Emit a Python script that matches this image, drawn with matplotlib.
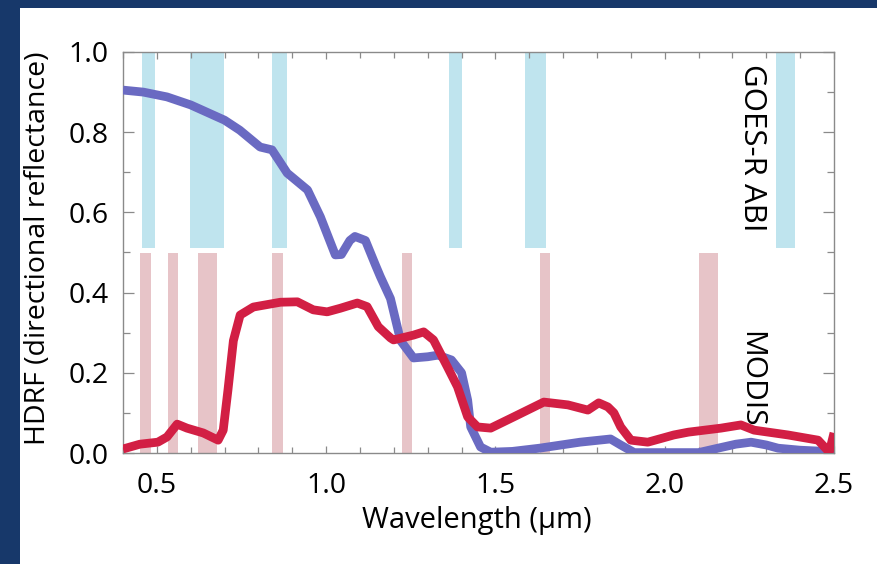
import matplotlib
matplotlib.use("Agg")
import matplotlib.pyplot as plt
from matplotlib.patches import Rectangle
from matplotlib.ticker import MultipleLocator

plt.rcParams['font.family'] = ['Open Sans', 'DejaVu Sans']

# GOES-R ABI band edges (µm) as drawn
abi_lo = [0.456, 0.598, 0.841, 1.362, 1.586, 2.330]
abi_hi = [0.494, 0.699, 0.885, 1.400, 1.649, 2.385]
abi_top = 1.0
abi_bottom = 0.51

# MODIS band edges (µm) as drawn
modis_lo = [0.450, 0.533, 0.622, 0.841, 1.225, 1.631, 2.100]
modis_hi = [0.483, 0.563, 0.678, 0.873, 1.255, 1.660, 2.157]
modis_top = 0.50

# Blue curve (snow-like)
blue_wl = [0.40, 0.46, 0.53, 0.60, 0.70, 0.745, 0.805, 0.84, 0.885, 0.945, 0.983,
           1.027, 1.045, 1.07, 1.085, 1.116, 1.145, 1.16, 1.19, 1.22, 1.258, 1.30,
           1.33, 1.37, 1.40, 1.418, 1.427, 1.456, 1.486, 1.55, 1.63, 1.75, 1.84,
           1.87, 1.91, 2.00, 2.10, 2.157, 2.21, 2.255, 2.30, 2.335, 2.40, 2.50]
blue_val = [0.905, 0.900, 0.888, 0.868, 0.830, 0.805, 0.763, 0.756, 0.698, 0.656, 0.589,
            0.494, 0.495, 0.530, 0.540, 0.530, 0.470, 0.440, 0.385, 0.280, 0.237, 0.240,
            0.244, 0.232, 0.200, 0.132, 0.065, 0.015, 0.002, 0.004, 0.012, 0.027, 0.035,
            0.020, 0.001, 0.001, 0.001, 0.012, 0.022, 0.027, 0.020, 0.012, 0.007, 0.003]

# Red curve (vegetation-like)
red_wl = [0.40, 0.45, 0.503, 0.53, 0.56, 0.589, 0.637, 0.681, 0.696, 0.71, 0.726,
          0.746, 0.785, 0.865, 0.915, 0.962, 1.003, 1.042, 1.092, 1.121, 1.154, 1.19,
          1.199, 1.258, 1.288, 1.317, 1.358, 1.388, 1.418, 1.447, 1.486, 1.554, 1.643,
          1.714, 1.773, 1.805, 1.832, 1.85, 1.87, 1.90, 1.95, 2.027, 2.07, 2.166,
          2.225, 2.264, 2.364, 2.453, 2.486, 2.50]
red_val = [0.010, 0.022, 0.027, 0.040, 0.072, 0.062, 0.050, 0.032, 0.057, 0.157, 0.280,
           0.344, 0.364, 0.376, 0.377, 0.357, 0.352, 0.361, 0.374, 0.365, 0.315, 0.287,
           0.282, 0.294, 0.302, 0.282, 0.215, 0.165, 0.090, 0.065, 0.062, 0.090, 0.127,
           0.120, 0.107, 0.125, 0.115, 0.100, 0.065, 0.032, 0.027, 0.045, 0.052, 0.062,
           0.070, 0.057, 0.045, 0.032, 0.002, 0.050]

xticks = [0.5, 1.0, 1.5, 2.0, 2.5]
yticks = [0.0, 0.2, 0.4, 0.6, 0.8, 1.0]

W, H = 877, 564
FS = 20.5
fig = plt.figure(figsize=(W / 100, H / 100), dpi=100)
fig.patch.set_facecolor('#17386a')
fig.patches.append(Rectangle((20 / W, 0), 1 - 20 / W, 1 - 8 / H, transform=fig.transFigure,
                             facecolor='white', edgecolor='none', zorder=-10))

ax = fig.add_axes([123 / W, 1 - 453 / H, (834 - 123) / W, (453 - 52) / H])
ax.set_zorder(5)
ax.set_facecolor('white')

for lo, hi in zip(abi_lo, abi_hi):
    ax.axvspan(lo, hi, ymin=abi_bottom, ymax=abi_top, color='#bfe4ee', lw=0, zorder=1)
for lo, hi in zip(modis_lo, modis_hi):
    ax.axvspan(lo, hi, ymin=0, ymax=modis_top, color='#e7c4c8', lw=0, zorder=1)

ax.plot(blue_wl, blue_val, color='#6a6ac2', lw=6.3, solid_capstyle='butt',
        solid_joinstyle='round', zorder=3)
ax.plot(red_wl, red_val, color='#d21f44', lw=6.3, solid_capstyle='butt',
        solid_joinstyle='round', zorder=4)

ax.set_xlim(0.4, 2.5)
ax.set_ylim(0.0, 1.0)
ax.set_xticks(xticks)
ax.set_xticklabels([f'{v:.1f}' for v in xticks])
ax.set_yticks(yticks)
ax.set_yticklabels([f'{v:.1f}' for v in yticks])
ax.xaxis.set_minor_locator(MultipleLocator(0.1))
ax.yaxis.set_minor_locator(MultipleLocator(0.1))

for s in ax.spines.values():
    s.set_color('#8a8a8a')
    s.set_linewidth(1.0)
ax.tick_params(which='both', direction='in', top=True, right=True, colors='#8a8a8a',
               labelcolor='black', labelsize=FS, width=0.9)
ax.tick_params(axis='x', which='major', length=5, pad=14)
ax.tick_params(axis='x', which='minor', length=4)
ax.tick_params(axis='y', which='major', length=8, pad=10.5)
ax.tick_params(axis='y', which='minor', length=5)

ax.set_xlabel('Wavelength (µm)', fontsize=21)
ax.set_ylabel('HDRF (directional reflectance)', fontsize=20.5)
ax.xaxis.set_label_coords(0.497, -0.133)
ax.yaxis.set_label_coords(-0.10, 0.51)

ax.text(2.258, 0.76, 'GOES-R ABI', rotation=270, ha='center', va='center', fontsize=22.5,
        color='black', zorder=5)
ax.text(2.255, 0.185, 'MODIS', rotation=270, ha='center', va='center', fontsize=21.5,
        color='black', zorder=5)

fig.savefig('out.png', dpi=100, facecolor=fig.get_facecolor())
